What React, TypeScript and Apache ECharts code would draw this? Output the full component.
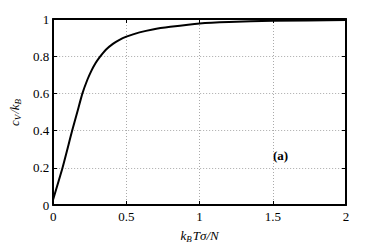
import React, { useEffect, useRef } from "react";
import * as echarts from "echarts";

const xValues = [0, 0.064, 0.13, 0.165, 0.2, 0.233, 0.26, 0.289, 0.318, 0.36, 0.408, 0.45, 0.5, 0.59, 0.68, 0.8, 1.0, 1.2, 1.5, 2.0];
const yValues = [0.03, 0.2, 0.4, 0.5, 0.6, 0.672, 0.72, 0.762, 0.795, 0.835, 0.866, 0.887, 0.905, 0.928, 0.944, 0.958, 0.976, 0.984, 0.99, 0.995];
const xTicks = [0, 0.5, 1, 1.5, 2];
const yTicks = [0, 0.2, 0.4, 0.6, 0.8, 1];
const annotation = "(a)";

const FONT = "Liberation Serif";

export default function App() {
  const ref = useRef<HTMLDivElement>(null);
  useEffect(() => {
    if (!ref.current) return;
    const chart = echarts.init(ref.current, null, { renderer: "svg" });
    const fmt = (v: number) => String(v);
    const axisCommon = {
      axisLine: { show: true, onZero: false, lineStyle: { color: "#000", width: 2 } },
      axisTick: { show: true, inside: true, length: 4, lineStyle: { color: "#000", width: 1 } },
    };
    const rich = {
      i: { fontFamily: FONT, fontStyle: "italic", fontSize: 13, color: "#000" },
      s: { fontFamily: FONT, fontStyle: "italic", fontSize: 9, color: "#000", verticalAlign: "bottom", padding: [6, 1, 0, 0] },
    };
    chart.setOption({
      animation: false,
      backgroundColor: "#fff",
      textStyle: { fontFamily: FONT },
      grid: { left: 50, right: 36, top: 19, bottom: 43 },
      xAxis: [
        {
          type: "value",
          min: xTicks[0],
          max: xTicks[xTicks.length - 1],
          interval: 0.5,
          ...axisCommon,
          axisLabel: { color: "#000", fontFamily: FONT, fontSize: 13, margin: 5, formatter: fmt },
          splitLine: { show: true, lineStyle: { color: "#aaa", type: [1, 2], width: 1 } },
          name: "{i|k}{s|B}{i|Tσ/N}",
          nameLocation: "middle",
          nameGap: 23,
          nameTextStyle: { color: "#000", fontFamily: FONT, rich },
        },
        {
          type: "value",
          position: "top",
          min: xTicks[0],
          max: xTicks[xTicks.length - 1],
          interval: 0.5,
          ...axisCommon,
          axisLabel: { show: false },
          splitLine: { show: false },
        },
      ],
      yAxis: [
        {
          type: "value",
          min: yTicks[0],
          max: yTicks[yTicks.length - 1],
          interval: 0.2,
          ...axisCommon,
          axisLabel: { color: "#000", fontFamily: FONT, fontSize: 13, margin: 4, formatter: fmt },
          splitLine: { show: true, lineStyle: { color: "#aaa", type: [1, 2], width: 1 } },
          name: "{i|c}{s|V}{i|/k}{s|B}",
          nameLocation: "middle",
          nameGap: 17,
          nameTextStyle: { color: "#000", fontFamily: FONT, rich },
        },
        {
          type: "value",
          position: "right",
          min: yTicks[0],
          max: yTicks[yTicks.length - 1],
          interval: 0.2,
          ...axisCommon,
          axisLabel: { show: false },
          splitLine: { show: false },
        },
      ],
      series: [
        {
          type: "line",
          data: xValues.map((x, i) => [x, yValues[i]]),
          smooth: 0.2,
          showSymbol: false,
          lineStyle: { color: "#000", width: 2 },
          z: 5,
        },
      ],
      graphic: [
        {
          type: "text",
          left: 273,
          top: 149,
          style: { text: annotation, font: `bold 13px "Liberation Serif"`, fill: "#000" },
        },
      ],
    });
    return () => chart.dispose();
  }, []);
  return <div ref={ref} style={{ width: 382, height: 248, position: "absolute", left: 0, top: 0 }} />;
}
